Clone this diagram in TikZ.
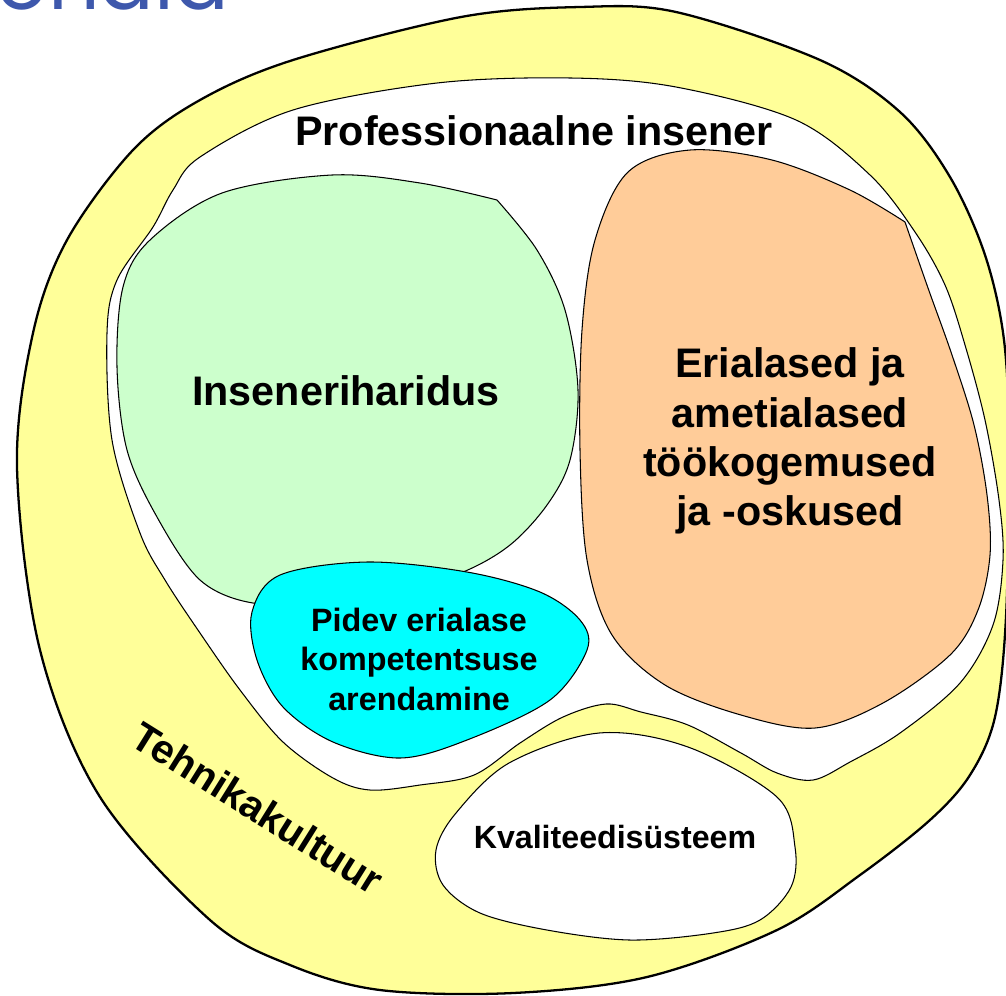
\documentclass[tikz,border=0pt]{standalone}
\usepackage{fontspec}
\setmainfont{Liberation Sans}
\newfontfamily\titlefont{Poppins}
\usepackage{tikz}
\usetikzlibrary{positioning}
\definecolor{insyellow}{RGB}{255,255,153}
\definecolor{insgreen}{RGB}{204,255,204}
\definecolor{insorange}{RGB}{255,204,153}
\definecolor{inscyan}{RGB}{0,255,255}
\definecolor{insblue}{RGB}{62,88,172}
\begin{document}
\begin{tikzpicture}[x=0.02cm,y=-0.02cm,
            region/.style={draw=black,line width=0.6pt},
            rim/.style={draw=black,line width=1.3pt},
            biglbl/.style={font=\fontsize{23.5}{28}\selectfont\bfseries,align=center},
            smalllbl/.style={font=\fontsize{18.4}{22.5}\selectfont\bfseries,align=center}]
        \useasboundingbox (0,0) rectangle (1006,995);
        \clip (0,0) rectangle (1006,995);
        \node[anchor=base west,text=insblue,inner sep=0pt,
              font=\titlefont\fontsize{46}{46}\selectfont] (title) at (-4,9) {onala};
        \path[rim,fill=insyellow] plot[smooth cycle,tension=0.55] coordinates {
            (200,100) (293,60) (461,17) (580,7) (676,12) (820,60) (900,112)
            (950,177) (985,255) (1004,340) (1009,450) (1006,617) (995,717)
            (970,775) (930,820) (860,875) (777,930) (647,977) (513,993)
            (380,990) (290,965) (210,920) (100,797) (40,650) (17,467)
            (33,333) (67,240) (133,150)};
        \path[region,fill=white] plot[smooth cycle,tension=0.55] coordinates {
            (200,157) (293,110) (437,83) (571,78) (676,87) (796,120) (870,175)
            (915,232) (945,285) (965,345) (985,420) (999,500) (1003,560)
            (993,625) (960,683) (900,733) (850,762) (813,780) (777,773)
            (741,753) (688,725) (641,712) (606,704) (563,717) (520,743)
            (474,775) (420,785) (370,790) (333,778) (283,742) (240,690)
            (200,633) (165,580) (140,533) (112,440) (107,333) (117,280)
            (153,227) (173,190)};
        \path[region,fill=insgreen] plot[smooth,tension=0.55] coordinates {
            (497,200) (537,250) (565,310) (578,390) (570,460) (547,505)
            (510,545) (463,572) (400,590) (320,600) (253,603) (200,580)
            (157,517) (127,450) (117,367) (123,287) (150,240) (222,193)
            (332,175) (420,183) (497,200)} -- cycle;
        \path[region,fill=insorange] plot[smooth,tension=0.55] coordinates {
            (905,222) (928,288) (952,355) (974,425) (987,495) (990,555)
            (978,610) (950,655) (883,703) (815,728) (741,715) (665,685)
            (612,635) (587,560) (580,450) (582,330) (595,240) (628,172)
            (690,150) (772,160) (850,190) (905,222)} -- cycle;
        \path[region,fill=inscyan] plot[smooth cycle,tension=0.55] coordinates {
            (252,612) (280,575) (367,562) (467,572) (540,592) (580,620)
            (587,650) (550,700) (467,740) (400,758) (333,742) (283,707)
            (257,660)};
        \path[region,fill=white] plot[smooth cycle,tension=0.55] coordinates {
            (509,763) (599,733) (688,747) (777,797) (795,847) (791,887)
            (760,920) (713,933) (630,940) (547,930) (480,913) (443,885)
            (436,850) (456,813)};
        \node[biglbl] (insener) at (534,131) {Professionaalne insener};
        \node[biglbl] (haridus) at (346,391) {Inseneriharidus};
        \node[biglbl] (oskused) at (790,441) {Erialased ja\\ametialased\\töökogemused\\ja -oskused};
        \node[smalllbl] (pidev) at (419,659) {Pidev erialase\\kompetentsuse\\arendamine};
        \node[font=\fontsize{18.3}{22}\selectfont\bfseries] (kvaliteet) at (615,837) {Kvaliteedisüsteem};
        \node[font=\fontsize{23}{28}\selectfont\bfseries,rotate=-32] (kultuur) at (258,808) {Tehnikakultuur};
\end{tikzpicture}
\end{document}
